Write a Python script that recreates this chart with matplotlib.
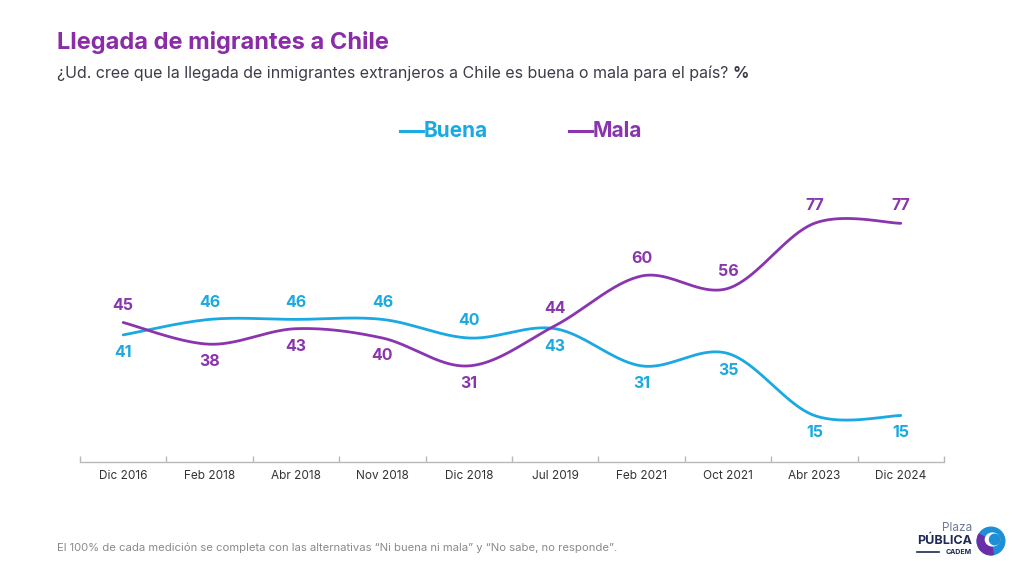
import numpy as np
import matplotlib
matplotlib.use("Agg")
import matplotlib.pyplot as plt
from matplotlib.lines import Line2D
from matplotlib.patches import Circle, Wedge, Ellipse

plt.rcParams['font.family'] = ['Inter', 'DejaVu Sans']

categories = ["Dic 2016", "Feb 2018", "Abr 2018", "Nov 2018", "Dic 2018",
              "Jul 2019", "Feb 2021", "Oct 2021", "Abr 2023", "Dic 2024"]
buena = [41, 46, 46, 46, 40, 43, 31, 35, 15, 15]
mala = [45, 38, 43, 40, 31, 44, 60, 56, 77, 77]
# label placement: +1 above, -1 below
buena_pos = [-1, 1, 1, 1, 1, -1, -1, -1, -1, -1]
mala_pos = [1, -1, -1, -1, -1, 1, 1, 1, 1, 1]

C_BUENA = "#1AA9E0"
C_MALA = "#8A35AE"
C_TITLE = "#8A2BA8"
C_TEXT = "#3C3C4A"


def smooth(x, y, n=40):
    x = np.asarray(x, float)
    y = np.asarray(y, float)
    P = np.column_stack([x, y])
    Pext = np.vstack([P[0], P, P[-1]])
    out = []
    for i in range(len(P) - 1):
        p0, p1, p2, p3 = Pext[i], Pext[i + 1], Pext[i + 2], Pext[i + 3]
        c1 = p1 + (p2 - p0) / 6.0
        c2 = p2 - (p3 - p1) / 6.0
        t = np.linspace(0, 1, n)[:, None]
        seg = ((1 - t) ** 3) * p1 + 3 * ((1 - t) ** 2) * t * c1 + 3 * (1 - t) * t ** 2 * c2 + t ** 3 * p2
        if i > 0:
            seg = seg[1:]
        out.append(seg)
    out = np.vstack(out)
    return out[:, 0], out[:, 1]


fig = plt.figure(figsize=(10.24, 5.65), dpi=100)
ax = fig.add_axes([80 / 1024, 1 - 462 / 565, 864 / 1024, 310 / 565])

xs = np.arange(len(categories))
for vals, col, pos in [(buena, C_BUENA, buena_pos), (mala, C_MALA, mala_pos)]:
    sx, sy = smooth(xs, vals)
    ax.plot(sx, sy, color=col, lw=2.0, solid_capstyle='round')
    for xi, v, p in zip(xs, vals, pos):
        ax.annotate(str(v), (xi, v), xytext=(0, 12.5 * p), textcoords='offset points',
                    ha='center', va='center', color=col, fontsize=11.5, fontweight='bold')

ax.set_xlim(-0.5, len(categories) - 0.5)
ax.set_ylim(0, 100)
for s in ['top', 'right', 'left']:
    ax.spines[s].set_visible(False)
ax.spines['bottom'].set_color('#B8B8B8')
ax.spines['bottom'].set_linewidth(1.0)
ax.set_yticks([])
ax.set_xticks(np.arange(-0.5, len(categories), 1.0))
ax.set_xticklabels([])
ax.tick_params(axis='x', which='major', direction='in', length=4, color='#B8B8B8', width=1.0)
ax.set_xticks(xs, minor=True)
ax.set_xticklabels(categories, minor=True)
ax.tick_params(axis='x', which='minor', length=0, pad=6, labelsize=8.5, labelcolor='#333333')

# Title and subtitle
fig.text(57 / 1024, 1 - 42 / 565, "Llegada de migrantes a Chile", color=C_TITLE,
         fontsize=17, fontweight='bold', ha='left', va='center')
t = fig.text(57 / 1024, 1 - 73 / 565,
             "¿Ud. cree que la llegada de inmigrantes extranjeros a Chile es buena o mala para el país? ",
             color=C_TEXT, fontsize=11.5, ha='left', va='center')
fig.canvas.draw()
bb = t.get_window_extent()
fig.text(bb.x1 / 1024, 1 - 73 / 565, "%", color=C_TEXT, fontsize=11.5,
         fontweight='bold', ha='left', va='center')

# Legend
ly = 1 - 131 / 565
for x0, lab, col in [(400, "Buena", C_BUENA), (569, "Mala", C_MALA)]:
    fig.add_artist(Line2D([x0 / 1024, (x0 + 23) / 1024], [ly, ly], color=col, lw=2.2,
                          transform=fig.transFigure))
    fig.text((x0 + 24) / 1024, ly, lab, color=col, fontsize=15, fontweight='bold',
             ha='left', va='center')

# Footer
fig.text(57 / 1024, 1 - 548 / 565,
         "El 100% de cada medición se completa con las alternativas “Ni buena ni mala” y “No sabe, no responde”.",
         color='#8A8A8A', fontsize=8.1, ha='left', va='center')

# Logo
fig.text(972 / 1024, 1 - 528 / 565, "Plaza", color='#6B7A99', fontsize=8.5,
         ha='right', va='center')
fig.text(972 / 1024, 1 - 541 / 565, "PÚBLICA", color='#1F2A55', fontsize=9,
         fontweight='bold', ha='right', va='center')
fig.text(972 / 1024, 1 - 552 / 565, "CADEM", color='#1F2A55', fontsize=5,
         fontweight='bold', ha='right', va='center')
fig.add_artist(Line2D([917 / 1024, 939 / 1024], [1 - 552 / 565, 1 - 552 / 565],
                      color='#1F2A55', lw=1.2, transform=fig.transFigure))
lax = fig.add_axes([976 / 1024, 1 - 556 / 565, 30 / 1024, 30 / 565])
lax.set_xlim(-1, 1)
lax.set_ylim(-1, 1)
lax.set_aspect('equal')
lax.axis('off')
lax.add_patch(Circle((0, 0), 0.92, color='#1E8FD6'))
lax.add_patch(Wedge((0, 0), 0.92, 150, 280, color='#6A2FA8'))
lax.add_patch(Ellipse((0.1, 0.1), 0.95, 0.85, color='white'))
lax.add_patch(Circle((0.25, 0.1), 0.35, color='#1E8FD6'))

fig.savefig("out.png", dpi=100, facecolor='white')
